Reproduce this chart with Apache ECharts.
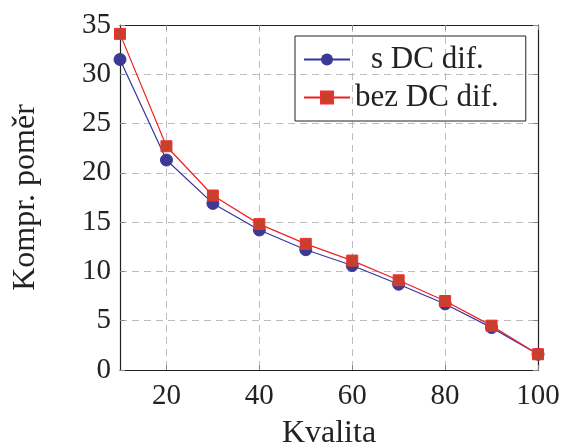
<!DOCTYPE html>
<html>
<head>
<meta charset="utf-8">
<title>Kompr. poměr</title>
<script src="https://cdn.jsdelivr.net/npm/echarts@6/dist/echarts.min.js"></script>
<style>
  * { margin: 0; padding: 0 }
  html, body { width: 100%; height: 100%; background: #fff; }
  #main { width: 563px; height: 445px; }
</style>
</head>
<body>
<div id="main"></div>
<script>
  // kvalita (x)
  var quality = [10, 20, 30, 40, 50, 60, 70, 80, 90, 100];
  // s DC dif.
  var withDC = [31.5, 21.3, 16.9, 14.2, 12.2, 10.6, 8.7, 6.7, 4.3, 1.6];
  // bez DC dif.
  var withoutDC = [34.1, 22.7, 17.7, 14.8, 12.8, 11.1, 9.1, 7.0, 4.5, 1.6];
  var xTicks = [20, 40, 60, 80, 100];

  var font = 'Liberation Serif';
  var txt = '#222';
  var gridLine = { show: true, lineStyle: { color: '#bdbdbd', type: [7, 5], width: 1 } };
  var frame = { show: true, onZero: false, lineStyle: { color: '#222', width: 1.2 } };

  function pairs(ys) {
    return quality.map(function (q, i) { return [q, ys[i]]; });
  }

  var chart = echarts.init(document.getElementById('main'));
  chart.setOption({
    animation: false,
    grid: { left: 120, right: 25, top: 25, bottom: 75, outerBoundsMode: 'none', containLabel: false },
    legend: {
      left: 295, top: 36,
      orient: 'vertical',
      borderColor: '#222', borderWidth: 1,
      padding: [8, 27, 8, 8],
      itemGap: 7,
      itemWidth: 46, itemHeight: 15,
      formatter: function (n) {
        return n === 's DC dif.' ? '{s|' + n + '}' : '{b|' + n + '}';
      },
      textStyle: {
        fontFamily: font, fontSize: 31, color: txt, lineHeight: 30,
        rich: {
          s: { fontFamily: font, fontSize: 31, color: txt, lineHeight: 30, padding: [0, 0, 0, 16] },
          b: { fontFamily: font, fontSize: 31, color: txt, lineHeight: 30 }
        }
      },
      data: ['s DC dif.', 'bez DC dif.']
    },
    xAxis: [{
      type: 'value', min: 10, max: 100,
      name: 'Kvalita', nameLocation: 'middle', nameGap: 48,
      nameTextStyle: { fontFamily: font, fontSize: 32, color: txt },
      axisLine: frame,
      axisTick: { inside: true, length: 5, customValues: xTicks, lineStyle: { color: '#888' } },
      axisLabel: { customValues: xTicks, fontFamily: font, fontSize: 29, color: txt, margin: 12 },
      splitLine: gridLine
    }, {
      type: 'value', min: 10, max: 100, position: 'top',
      axisLine: frame,
      axisTick: { inside: true, length: 5, customValues: xTicks, lineStyle: { color: '#888' } },
      axisLabel: { show: false },
      splitLine: { show: false }
    }],
    yAxis: [{
      type: 'value', min: 0, max: 35, interval: 5,
      name: 'Kompr. poměr', nameLocation: 'middle', nameGap: 78,
      nameTextStyle: { fontFamily: font, fontSize: 32, color: txt },
      axisLine: frame,
      axisTick: { show: true, inside: true, length: 5, lineStyle: { color: '#888' } },
      axisLabel: { fontFamily: font, fontSize: 29, color: txt, margin: 9 },
      splitLine: gridLine
    }, {
      type: 'value', min: 0, max: 35, interval: 5, position: 'right',
      axisLine: frame,
      axisTick: { show: true, inside: true, length: 5, lineStyle: { color: '#888' } },
      axisLabel: { show: false },
      splitLine: { show: false }
    }],
    series: [{
      name: 's DC dif.', type: 'line',
      data: pairs(withDC),
      symbol: 'circle', symbolSize: 12,
      lineStyle: { color: '#3535a0', width: 1.2 },
      itemStyle: { color: '#3a3a94', borderColor: '#3a3a94' },
      z: 2
    }, {
      name: 'bez DC dif.', type: 'line',
      data: pairs(withoutDC),
      symbol: 'rect', symbolSize: 11,
      lineStyle: { color: '#f02020', width: 1.2 },
      itemStyle: { color: '#c8402c', borderColor: '#f03030', borderWidth: 1 },
      z: 3
    }]
  });
</script>
</body>
</html>
